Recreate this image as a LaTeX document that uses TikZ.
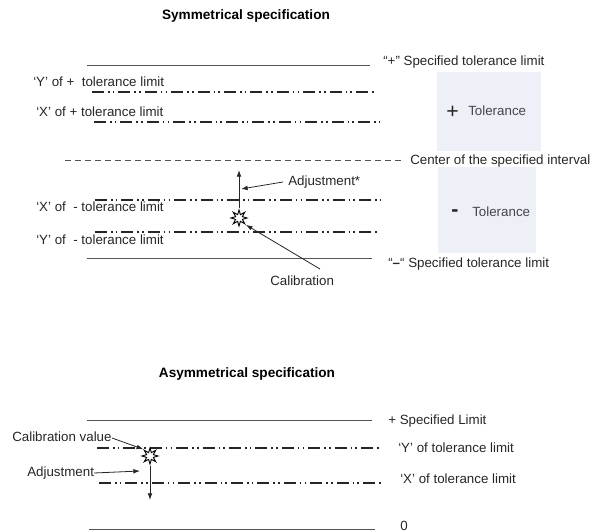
\documentclass[tikz,border=0pt]{standalone}
\usepackage{fontspec}
\setmainfont{Liberation Sans}
\usetikzlibrary{arrows.meta,shapes.geometric}
\definecolor{linegray}{HTML}{555555}
\definecolor{boxfill}{HTML}{EEF0F8}
\definecolor{tolgray}{HTML}{444450}
\tikzset{
  lbl/.style={font=\fontsize{10pt}{12pt}\selectfont, text=black!85, inner sep=0pt, anchor=base west},
  ttl/.style={font=\bfseries\fontsize{10.2pt}{12pt}\selectfont, inner sep=0pt, anchor=base},
  solidline/.style={draw=linegray, line width=0.75pt},
  ddline/.style={draw=black!85, line width=1pt, dash pattern=on 9pt off 3pt on 1.2pt off 2.4pt on 1.2pt off 3pt},
  cline/.style={draw=linegray, line width=0.75pt, dash pattern=on 4.5pt off 3pt},
  tolbox/.style={fill=boxfill, draw=none},
  arr/.style={draw=black!85, line width=0.6pt, -{Latex[length=5pt,width=3.5pt]}},
  sun/.style={star, star points=8, star point ratio=2.2, minimum size=12pt, inner sep=0pt, draw=black, fill=white, line width=0.7pt},
}
\begin{document}
\begin{tikzpicture}[x=0.75pt,y=-0.75pt]
\useasboundingbox (0,0) rectangle (613,531);
% ---------- Symmetrical ----------
\node[ttl] (t1) at (246,20) {Symmetrical specification};
\fill[tolbox] (437,72) rectangle (541,151);
\fill[tolbox] (438,167) rectangle (536,253);
\node[font=\fontsize{16pt}{16pt}\selectfont, text=black!85, inner sep=0pt, anchor=base west] (plus) at (446,118) {+};
\node[lbl, text=tolgray] (tolp) at (468,116) {Tolerance};
\node[font=\bfseries\fontsize{16pt}{16pt}\selectfont, text=black!85, inner sep=0pt, anchor=base west] (minus) at (451,216) {-};
\node[lbl, text=tolgray] (tolm) at (472,216) {Tolerance};

\draw[solidline] (87,66) -- (370,66);
\node[lbl] (l1) at (383,66) {“+” Specified tolerance limit};
\node[lbl] (y1) at (33,87) {‘Y’ of +\ \ tolerance limit};
\draw[ddline] (92,92) -- (376,92);
\node[lbl] (x1) at (36,117) {‘X’ of + tolerance limit};
\draw[ddline] (94,122) -- (380,122);
\draw[cline] (65,160) -- (402,160);
\node[lbl] (c1) at (410,164) {Center of the specified interval};
\node[lbl] (xm) at (36,211) {‘X’ of\ \ - tolerance limit};
\draw[ddline] (95,200) -- (380,200);
\node[lbl] (ym) at (36,244) {‘Y’ of\ \ - tolerance limit};
\draw[ddline] (95,232) -- (378,232);
\draw[solidline] (87,258) -- (372,258);
\node[lbl] (l2) at (388,267) {“\textbf{–}“ Specified tolerance limit};

\node[sun] (s1) at (239,218) {};
\coordinate (a1top) at (239,170);
\draw[arr] (s1.north) -- (a1top);
\node[lbl] (adj1) at (288,185) {Adjustment*};
\coordinate (a1hit) at (241,189);
\coordinate (adj1s) at (283,182);
\draw[arr] (adj1s) -- (a1hit);
\node[lbl] (cal1) at (270,285) {Calibration};
\coordinate (cal1s) at (320,269);
\draw[arr] (cal1s) -- (s1.south east);

% ---------- Asymmetrical ----------
\node[ttl] (t2) at (247,377) {Asymmetrical specification};
\draw[solidline] (87,420) -- (372,420);
\node[lbl] (p2) at (388,424) {+ Specified Limit};
\draw[ddline] (97,448) -- (380,448);
\node[lbl] (y2) at (398,452) {‘Y’ of tolerance limit};
\draw[ddline] (99,483) -- (381,483);
\node[lbl] (x2) at (400,483) {‘X’ of tolerance limit};
\draw[solidline] (89,529) -- (375,529);
\node[lbl] (z2) at (400,530) {0};

\node[sun] (s2) at (150,456) {};
\node[lbl] (cv) at (12,441) {Calibration value};
\coordinate (cvs) at (112,438);
\draw[arr] (cvs) -- (s2.north west);
\node[lbl] (adj2) at (27,476) {Adjustment};
\coordinate (adj2e) at (140,471);
\coordinate (adj2s) at (94,473);
\draw[arr] (adj2s) -- (adj2e);
\coordinate (a2bot) at (150,500);
\draw[arr] (s2.south) -- (a2bot);
\end{tikzpicture}
\end{document}
